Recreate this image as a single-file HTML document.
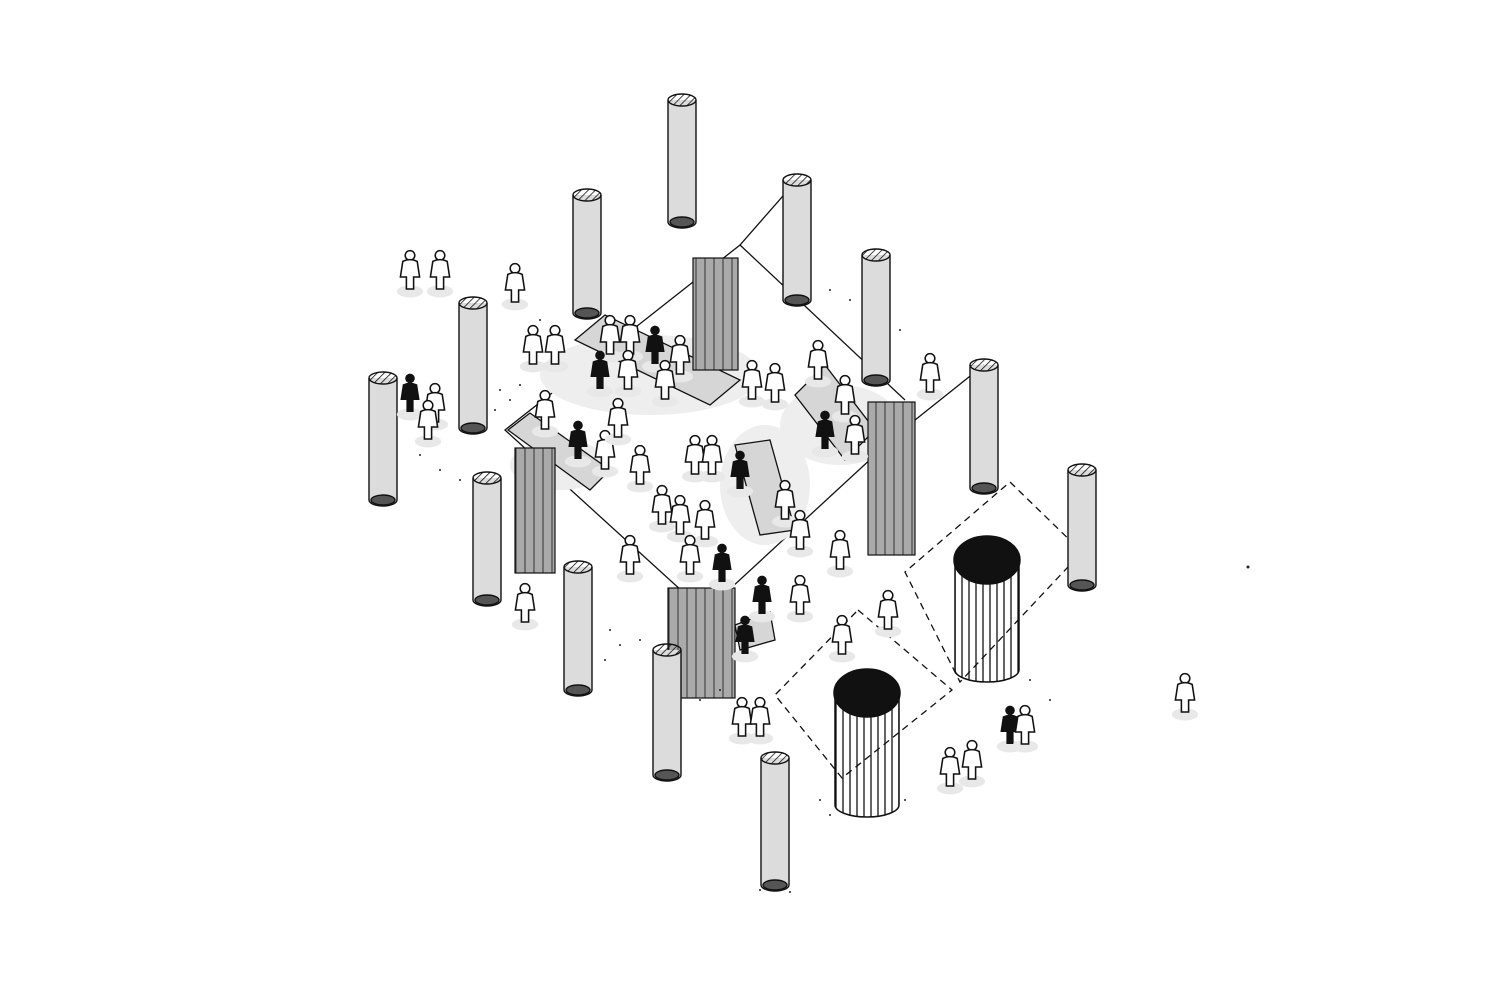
<!DOCTYPE html>
<html><head><meta charset="utf-8"><style>html,body{margin:0;padding:0;background:#fff}svg{display:block}</style></head>
<body>
<svg width="1500" height="1003" viewBox="0 0 1500 1003" xmlns="http://www.w3.org/2000/svg">
<defs>
<pattern id="hatch" width="5" height="5" patternUnits="userSpaceOnUse" patternTransform="rotate(45)"><line x1="0" y1="0" x2="0" y2="5" stroke="#111" stroke-width="1.6"/></pattern>
<pattern id="vstripe" width="7" height="10" patternUnits="userSpaceOnUse"><line x1="3" y1="0" x2="3" y2="10" stroke="#111" stroke-width="1.3"/></pattern>
<pattern id="curt" width="9" height="10" patternUnits="userSpaceOnUse"><rect width="9" height="10" fill="#aaa"/><line x1="3" y1="0" x2="3" y2="10" stroke="#333" stroke-width="1"/></pattern>
<g id="p0"><ellipse cx="0" cy="22" rx="11" ry="5" fill="#e8e8e8"/><circle cx="0" cy="-8" r="4" fill="#fff" stroke="#111" stroke-width="1.3"/><path d="M-6 -3 Q0 -6 6 -3 L8 10 L3 10 L3 20 L-3 20 L-3 10 L-8 10 Z" fill="#fff" stroke="#111" stroke-width="1.3"/></g>
<g id="pb0"><ellipse cx="0" cy="22" rx="11" ry="5" fill="#e8e8e8"/><circle cx="0" cy="-8" r="4" fill="#111"/><path d="M-6 -3 Q0 -6 6 -3 L8 10 L3 10 L3 20 L-3 20 L-3 10 L-8 10 Z" fill="#111"/></g>
<g id="p"><use href="#p0" transform="scale(1.2)"/></g>
<g id="pb"><use href="#pb0" transform="scale(1.2)"/></g>
</defs>
<g stroke="#111" stroke-width="1.3" fill="none">
<path d="M797 180 L740 245 L505 430 L705 612 L900 432 L984 365"/>
<path d="M740 245 L905 400"/>
</g>
<g fill="#eeeeee">
<ellipse cx="650" cy="375" rx="110" ry="40"/><ellipse cx="840" cy="425" rx="60" ry="40"/><ellipse cx="765" cy="485" rx="45" ry="60"/><ellipse cx="560" cy="465" rx="50" ry="25"/>
</g>
<g fill="#d6d6d6" stroke="#111" stroke-width="1.3">
<polygon points="575,340 605,315 740,380 710,405"/>
<polygon points="508,430 530,413 610,470 590,490"/>
<polygon points="735,445 770,440 795,530 760,535"/>
<polygon points="795,395 825,365 875,430 845,460"/>
<polygon points="735,625 770,612 775,640 740,650"/>
</g>
<g stroke="#111" stroke-width="1.2">
<rect x="693" y="258" width="45" height="112" fill="url(#curt)"/>
<rect x="515" y="448" width="40" height="125" fill="url(#curt)"/>
<rect x="668" y="588" width="67" height="110" fill="url(#curt)"/>
<rect x="868" y="402" width="47" height="153" fill="url(#curt)"/>
</g>
<g stroke="#111" stroke-width="1.3" fill="none" stroke-dasharray="7 5">
<polygon points="1010,482 1082,552 960,682 905,572"/>
<polygon points="858,610 952,690 842,778 775,695"/>
</g>
<g stroke="#111" stroke-width="1.4" fill="#dcdcdc">
<path d="M668 100 L668 222 A14 6 0 0 0 696 222 L696 100"/><ellipse cx="682" cy="100" rx="14" ry="6" fill="url(#hatch)"/><ellipse cx="682" cy="222" rx="12" ry="5" fill="#555"/>
<path d="M573 195 L573 313 A14 6 0 0 0 601 313 L601 195"/><ellipse cx="587" cy="195" rx="14" ry="6" fill="url(#hatch)"/><ellipse cx="587" cy="313" rx="12" ry="5" fill="#555"/>
<path d="M783 180 L783 300 A14 6 0 0 0 811 300 L811 180"/><ellipse cx="797" cy="180" rx="14" ry="6" fill="url(#hatch)"/><ellipse cx="797" cy="300" rx="12" ry="5" fill="#555"/>
<path d="M862 255 L862 380 A14 6 0 0 0 890 380 L890 255"/><ellipse cx="876" cy="255" rx="14" ry="6" fill="url(#hatch)"/><ellipse cx="876" cy="380" rx="12" ry="5" fill="#555"/>
<path d="M459 303 L459 428 A14 6 0 0 0 487 428 L487 303"/><ellipse cx="473" cy="303" rx="14" ry="6" fill="url(#hatch)"/><ellipse cx="473" cy="428" rx="12" ry="5" fill="#555"/>
<path d="M369 378 L369 500 A14 6 0 0 0 397 500 L397 378"/><ellipse cx="383" cy="378" rx="14" ry="6" fill="url(#hatch)"/><ellipse cx="383" cy="500" rx="12" ry="5" fill="#555"/>
<path d="M970 365 L970 488 A14 6 0 0 0 998 488 L998 365"/><ellipse cx="984" cy="365" rx="14" ry="6" fill="url(#hatch)"/><ellipse cx="984" cy="488" rx="12" ry="5" fill="#555"/>
<path d="M1068 470 L1068 585 A14 6 0 0 0 1096 585 L1096 470"/><ellipse cx="1082" cy="470" rx="14" ry="6" fill="url(#hatch)"/><ellipse cx="1082" cy="585" rx="12" ry="5" fill="#555"/>
<path d="M473 478 L473 600 A14 6 0 0 0 501 600 L501 478"/><ellipse cx="487" cy="478" rx="14" ry="6" fill="url(#hatch)"/><ellipse cx="487" cy="600" rx="12" ry="5" fill="#555"/>
<path d="M564 567 L564 690 A14 6 0 0 0 592 690 L592 567"/><ellipse cx="578" cy="567" rx="14" ry="6" fill="url(#hatch)"/><ellipse cx="578" cy="690" rx="12" ry="5" fill="#555"/>
<path d="M653 650 L653 775 A14 6 0 0 0 681 775 L681 650"/><ellipse cx="667" cy="650" rx="14" ry="6" fill="url(#hatch)"/><ellipse cx="667" cy="775" rx="12" ry="5" fill="#555"/>
<path d="M761 758 L761 885 A14 6 0 0 0 789 885 L789 758"/><ellipse cx="775" cy="758" rx="14" ry="6" fill="url(#hatch)"/><ellipse cx="775" cy="885" rx="12" ry="5" fill="#555"/>
</g>
<g stroke="#111" stroke-width="1.5">
<path d="M955 560 L955 670 A32 12 0 0 0 1019 670 L1019 560 Z" fill="url(#vstripe)"/>
<ellipse cx="987" cy="560" rx="33" ry="24" fill="#111"/>
<path d="M835 693 L835 805 A32 12 0 0 0 899 805 L899 693 Z" fill="url(#vstripe)"/>
<ellipse cx="867" cy="693" rx="33" ry="24" fill="#111"/>
</g>
<use href="#p" x="410" y="265"/><use href="#p" x="440" y="265"/><use href="#p" x="515" y="278"/>
<use href="#p" x="533" y="340"/><use href="#p" x="555" y="340"/><use href="#pb" x="410" y="388"/><use href="#p" x="435" y="398"/><use href="#p" x="428" y="415"/>
<use href="#p" x="610" y="330"/><use href="#p" x="630" y="330"/><use href="#pb" x="655" y="340"/><use href="#p" x="680" y="350"/>
<use href="#pb" x="600" y="365"/><use href="#p" x="628" y="365"/><use href="#p" x="665" y="375"/><use href="#p" x="752" y="375"/><use href="#p" x="775" y="378"/>
<use href="#p" x="818" y="355"/><use href="#p" x="845" y="390"/><use href="#pb" x="825" y="425"/><use href="#p" x="855" y="430"/><use href="#p" x="930" y="368"/>
<use href="#p" x="545" y="405"/><use href="#pb" x="578" y="435"/><use href="#p" x="605" y="445"/><use href="#p" x="618" y="413"/><use href="#p" x="640" y="460"/>
<use href="#p" x="695" y="450"/><use href="#p" x="712" y="450"/><use href="#pb" x="740" y="465"/><use href="#p" x="785" y="495"/><use href="#p" x="800" y="525"/>
<use href="#p" x="662" y="500"/><use href="#p" x="680" y="510"/><use href="#p" x="705" y="515"/><use href="#p" x="690" y="550"/><use href="#pb" x="722" y="558"/>
<use href="#p" x="630" y="550"/><use href="#p" x="840" y="545"/><use href="#p" x="525" y="598"/><use href="#pb" x="762" y="590"/><use href="#p" x="800" y="590"/>
<use href="#p" x="888" y="605"/><use href="#p" x="842" y="630"/><use href="#pb" x="745" y="630"/><use href="#p" x="742" y="712"/><use href="#p" x="760" y="712"/>
<use href="#pb" x="1010" y="720"/><use href="#p" x="1025" y="720"/><use href="#p" x="950" y="762"/><use href="#p" x="972" y="755"/><use href="#p" x="1185" y="688"/>
<g fill="#222">
<circle cx="500" cy="390" r="1"/><circle cx="510" cy="400" r="1"/><circle cx="495" cy="410" r="1"/><circle cx="520" cy="385" r="1"/><circle cx="420" cy="455" r="1"/><circle cx="440" cy="470" r="1"/><circle cx="460" cy="480" r="1"/>
<circle cx="610" cy="630" r="1"/><circle cx="620" cy="645" r="1"/><circle cx="640" cy="640" r="1"/><circle cx="605" cy="660" r="1"/><circle cx="700" cy="700" r="1"/><circle cx="720" cy="690" r="1"/>
<circle cx="820" cy="800" r="1"/><circle cx="830" cy="815" r="1"/><circle cx="905" cy="800" r="1"/><circle cx="1030" cy="680" r="1"/><circle cx="1050" cy="700" r="1"/><circle cx="760" cy="890" r="1"/><circle cx="790" cy="892" r="1"/>
<circle cx="830" cy="290" r="1"/><circle cx="850" cy="300" r="1"/><circle cx="900" cy="330" r="1"/><circle cx="540" cy="320" r="1"/><circle cx="1248" cy="567" r="1.5"/>
</g>
</svg>
</body></html>
